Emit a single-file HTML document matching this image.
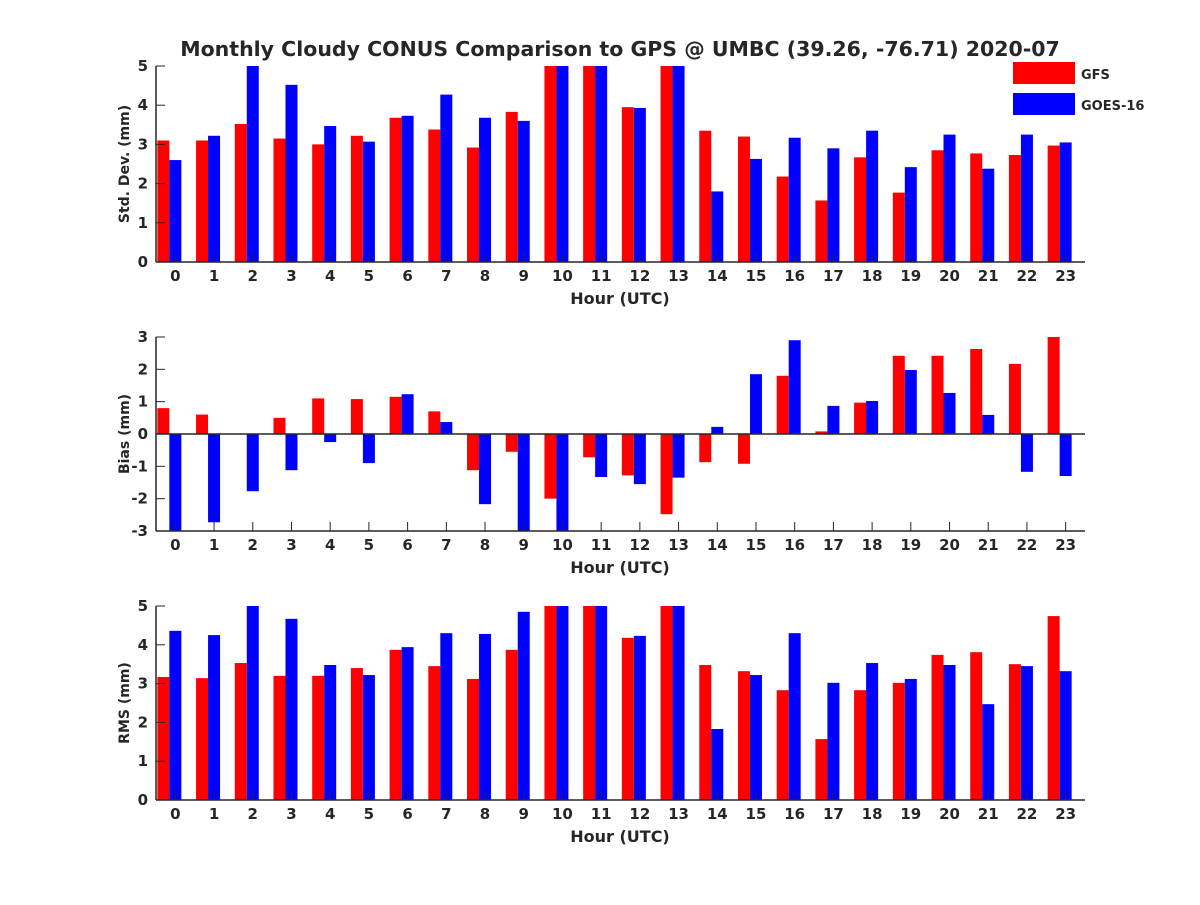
<!DOCTYPE html>
<html><head><meta charset="utf-8"><style>
body{margin:0;background:#fff;}
svg text{font-family:"DejaVu Sans","Liberation Sans",sans-serif;font-weight:bold;fill:#262626;}
</style></head><body>
<svg id="chart" width="1200" height="900"></svg>
<script>
const hours=[...Array(24).keys()];
const stdGFS=[3.1,3.1,3.52,3.15,3.0,3.22,3.68,3.38,2.92,3.83,5.5,5.5,3.95,5.5,3.35,3.2,2.18,1.57,2.67,1.77,2.85,2.77,2.73,2.97];
const stdGOES=[2.6,3.22,5.5,4.52,3.47,3.07,3.73,4.27,3.68,3.6,5.5,5.5,3.93,5.5,1.8,2.63,3.17,2.9,3.35,2.42,3.25,2.38,3.25,3.05];
const biasGFS=[0.8,0.6,0,0.5,1.1,1.08,1.15,0.7,-1.12,-0.55,-2.0,-0.72,-1.28,-2.48,-0.87,-0.92,1.8,0.08,0.97,2.42,2.42,2.63,2.17,3.0];
const biasGOES=[-3.3,-2.73,-1.77,-1.12,-0.25,-0.9,1.23,0.37,-2.17,-3.3,-3.3,-1.33,-1.55,-1.35,0.22,1.85,2.9,0.87,1.02,1.98,1.27,0.59,-1.17,-1.3];
const rmsGFS=[3.17,3.14,3.53,3.2,3.2,3.4,3.87,3.45,3.12,3.87,5.5,5.5,4.18,5.5,3.48,3.32,2.83,1.57,2.83,3.02,3.74,3.81,3.5,4.74];
const rmsGOES=[4.36,4.25,5.5,4.67,3.48,3.22,3.94,4.3,4.28,4.85,5.5,5.5,4.23,5.5,1.83,3.22,4.3,3.02,3.53,3.12,3.48,2.47,3.45,3.32];
const stdTicks=[0,1,2,3,4,5], biasTicks=[-3,-2,-1,0,1,2,3], rmsTicks=[0,1,2,3,4,5];
const NS="http://www.w3.org/2000/svg";
const svg=document.getElementById('chart');
function mk(t,a,p){const e=document.createElementNS(NS,t);for(const k in a)e.setAttribute(k,a[k]);(p||svg).appendChild(e);return e;}
const X0=156,X1=1085;
const xs=h=>X0+(h+0.5)*(X1-X0)/24;
function panel(name,top,bot,ymin,ymax,ticks,g1,g2,ylab){
  const g=mk('g',{});
  
  
  const ys=v=>bot-(Math.max(ymin,Math.min(ymax,v))-ymin)/(ymax-ymin)*(bot-top);
  const y0=ys(Math.max(ymin,0));
  hours.forEach(h=>{
    const c=xs(h);
    const r=mk('rect',{x:c-18,y:Math.min(ys(g1[h]),y0),width:12,height:Math.abs(ys(g1[h])-y0),fill:'#ff0000'},g);
    
    
    const b=mk('rect',{x:c-6,y:Math.min(ys(g2[h]),y0),width:12,height:Math.abs(ys(g2[h])-y0),fill:'#0000ff'},g);
    
    
    mk('line',{x1:c,x2:c,y1:bot,y2:bot-9,stroke:'#262626'},g);
    const t=mk('text',{x:c,y:bot+19,'text-anchor':'middle','font-size':15},g);t.textContent=h;
  });
  ticks.forEach(v=>{
    const y=ys(v);
    mk('line',{x1:X0,x2:X0+9,y1:y,y2:y,stroke:'#262626'},g);
    const t=mk('text',{x:X0-8,y:y+5,'text-anchor':'end','font-size':15},g);t.textContent=v;
  });
  if(ymin<0) mk('line',{x1:X0,x2:X1,y1:y0,y2:y0,stroke:'#262626','stroke-width':1.5},g);
  mk('line',{x1:X0,x2:X0,y1:top,y2:bot,stroke:'#262626','stroke-width':1.5},g);
  mk('line',{x1:X0,x2:X1,y1:bot,y2:bot,stroke:'#262626','stroke-width':1.5},g);
  const xl=mk('text',{x:620,y:bot+42,'text-anchor':'middle','font-size':16},g);xl.textContent='Hour (UTC)';
  const yl=mk('text',{x:0,y:0,'text-anchor':'middle','font-size':14,transform:`translate(129,${(top+bot)/2}) rotate(-90)`},g);yl.textContent=ylab;
}
panel('std',66,262,0,5,stdTicks,stdGFS,stdGOES,'Std. Dev. (mm)');
panel('bias',337,531,-3,3,biasTicks,biasGFS,biasGOES,'Bias (mm)');
panel('rms',606,800,0,5,rmsTicks,rmsGFS,rmsGOES,'RMS (mm)');
const ti=mk('text',{x:620,y:56,'text-anchor':'middle','font-size':20.5});ti.textContent='Monthly Cloudy CONUS Comparison to GPS @ UMBC (39.26, -76.71) 2020-07';

const lg=mk('g',{});


mk('rect',{x:1013,y:62,width:62,height:22,fill:'#ff0000'},lg);
let t1=mk('text',{x:1081,y:79,'font-size':13},lg);t1.textContent='GFS';
mk('rect',{x:1013,y:93,width:62,height:22,fill:'#0000ff'},lg);
let t2=mk('text',{x:1081,y:110,'font-size':13},lg);t2.textContent='GOES-16';
</script>
</body></html>
